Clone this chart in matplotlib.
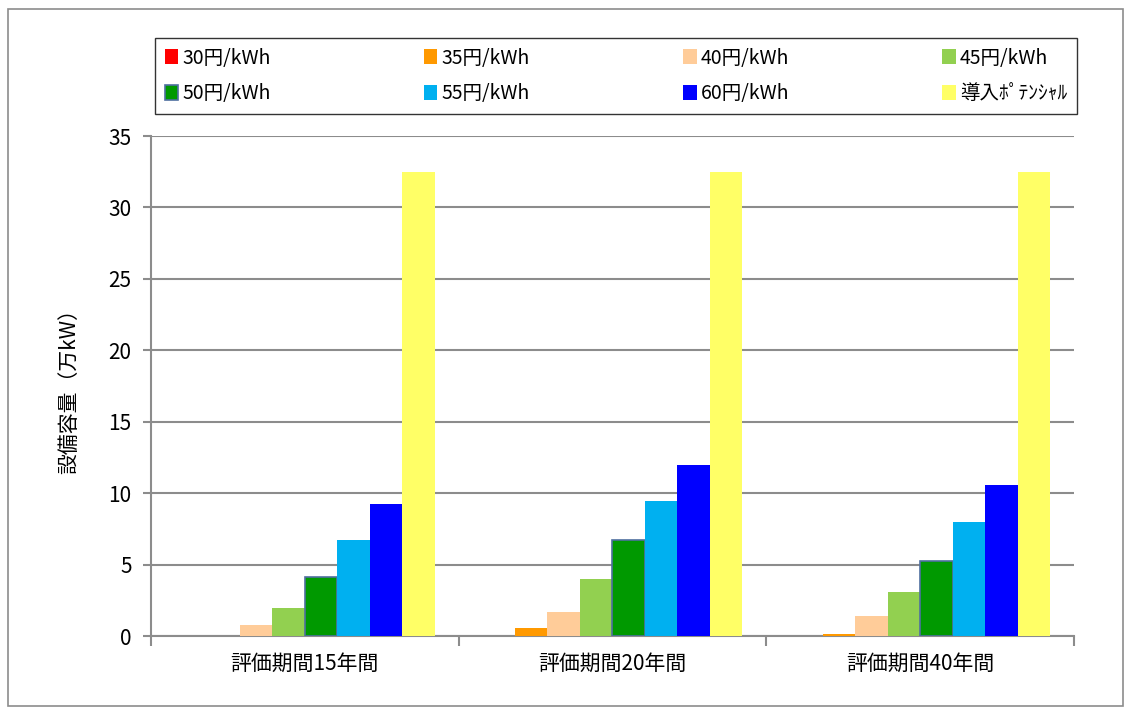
import numpy as np
import matplotlib
matplotlib.use("Agg")
import matplotlib.pyplot as plt
from matplotlib.patches import Rectangle

plt.rcParams['font.family'] = ['Noto Sans CJK JP', 'DejaVu Sans']

# データ
groups = ['評価期間15年間', '評価期間20年間', '評価期間40年間']
series = ['30円/kWh', '35円/kWh', '40円/kWh', '45円/kWh',
          '50円/kWh', '55円/kWh', '60円/kWh', '導入ﾎﾟﾃﾝｼｬﾙ']
v30 = [0.0, 0.0, 0.0]
v35 = [0.0, 0.55, 0.17]
v40 = [0.8, 1.7, 1.42]
v45 = [1.95, 4.0, 3.06]
v50 = [4.1, 6.75, 5.23]
v55 = [6.7, 9.45, 7.98]
v60 = [9.24, 11.97, 10.55]
pot = [32.5, 32.5, 32.5]
values = [v30, v35, v40, v45, v50, v55, v60, pot]
colors = ['#FF0000', '#FF9900', '#FFCC99', '#92D050',
          '#009900', '#00B0F0', '#0000FF', '#FFFF66']

fig = plt.figure(figsize=(11.31, 7.14), dpi=100)
ax = fig.add_axes([0.1335, 0.1092, 0.816, 0.7003])

x = np.arange(len(groups))
w = 0.845 / len(series)
handles = []
for i, (name, vals, c) in enumerate(zip(series, values, colors)):
    pos = x - 0.845 / 2 + w * (i + 0.5)
    if name == '50円/kWh':
        b = ax.bar(pos, vals, w, color=c, edgecolor='#4F6FA0', linewidth=1.2, label=name, zorder=3)
    else:
        b = ax.bar(pos, vals, w, color=c, linewidth=0, label=name, zorder=3)
    handles.append(b)

ax.set_xlim(-0.5, 2.5)
ax.set_ylim(0, 35)
ax.set_yticks(range(0, 36, 5))
ax.yaxis.grid(True, color='#8C8C8C', linewidth=1.5, zorder=0)
ax.set_axisbelow(True)

ax.set_xticks(x)
ax.set_xticklabels(groups, fontsize=15)
ax.tick_params(axis='x', which='major', length=0, pad=12)
ax.set_xticks([-0.5, 0.5, 1.5, 2.5], minor=True)
ax.tick_params(axis='x', which='minor', length=7, color='#8C8C8C', width=1.5)
ax.tick_params(axis='y', length=6, color='#8C8C8C', width=1.5, labelsize=15, pad=8)

for s in ['top', 'right']:
    ax.spines[s].set_visible(False)
for s in ['left', 'bottom']:
    ax.spines[s].set_color('#8C8C8C')
    ax.spines[s].set_linewidth(1.5)

ax.set_ylabel('設備容量（万kW）', fontsize=15, labelpad=20)

# 凡例は行方向に並べる
order = [0, 4, 1, 5, 2, 6, 3, 7]
leg = fig.legend([handles[i] for i in order], [series[i] for i in order],
                 loc='upper left', bbox_to_anchor=(0.137, 0.947, 0.815, 0.0),
                 mode='expand', ncol=4, fontsize=14, frameon=True, fancybox=False,
                 handlelength=0.7, handleheight=0.8, handletextpad=0.2,
                 borderaxespad=0, labelspacing=0.75, borderpad=0.5)
leg.get_frame().set_edgecolor('black')
leg.get_frame().set_linewidth(1.0)

fig.patches.append(Rectangle((0.007, 0.011), 0.986, 0.977, transform=fig.transFigure,
                             fill=False, edgecolor='#8C8C8C', linewidth=1.2))

fig.savefig('out.png', dpi=100)
